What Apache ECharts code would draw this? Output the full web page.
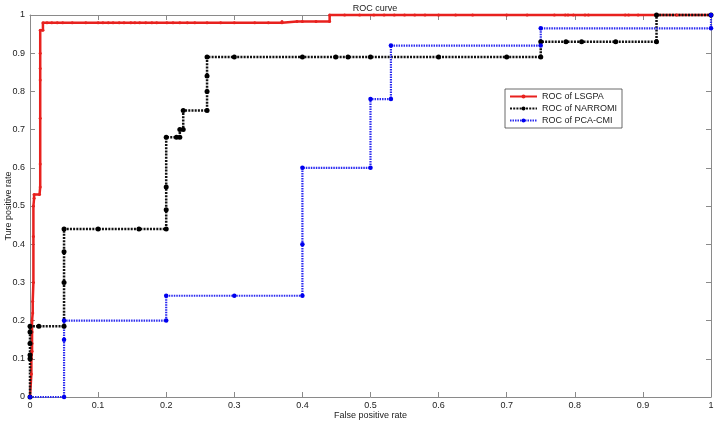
<!DOCTYPE html>
<html>
<head>
<meta charset="utf-8">
<script src="https://cdn.jsdelivr.net/npm/echarts@6/dist/echarts.min.js"></script>
<style>html,body{margin:0;padding:0;background:#fff}#c{width:714px;height:423px}</style>
</head>
<body>
<div id="c"></div>
<script>
var tickLabels = ['0','0.1','0.2','0.3','0.4','0.5','0.6','0.7','0.8','0.9','1'];
var seriesNames = ['ROC of LSGPA','ROC of NARROMI','ROC of PCA-CMI'];

var lsgpaFpr = [0,0.002,0.002,0.003,0.003,0.003,0.003,0.004,0.004,0.005,0.005,0.005,0.006,0.006,0.014,0.015,0.015,0.015,0.015,0.015,0.015,0.015,0.019,0.019,
  0.025,0.032,0.04,0.048,0.062,0.082,0.1,0.107,0.115,0.122,0.131,0.138,0.148,0.154,0.161,0.17,0.179,0.186,0.201,0.21,0.22,0.231,0.242,0.26,0.28,0.3,0.33,0.35,0.37,
  0.37,0.392,0.4,0.42,0.44,
  0.44,0.462,0.484,0.505,0.52,0.535,0.55,0.565,0.58,0.6,0.625,0.65,0.7,0.73,0.77,0.786,0.79,0.798,0.815,0.82,0.874,0.879,0.893,0.95,1.0];
var lsgpaTpr = [0,0.06,0.1,0.12,0.14,0.17,0.2,0.22,0.25,0.3,0.42,0.5,0.52,0.53,0.53,0.55,0.61,0.73,0.83,0.86,0.9,0.96,0.96,0.98,
  0.98,0.98,0.98,0.98,0.98,0.98,0.98,0.98,0.98,0.98,0.98,0.98,0.98,0.98,0.98,0.98,0.98,0.98,0.98,0.98,0.98,0.98,0.98,0.98,0.98,0.98,0.98,0.98,0.98,
  0.983,0.983,0.983,0.983,0.983,
  1,1,1,1,1,1,1,1,1,1,1,1,1,1,1,1,1,1,1,1,1,1,1,1,1];

var narromiFpr = [0,0,0,0,0,0,0.013,0.05,0.05,0.05,0.05,0.1,0.16,0.2,0.2,0.2,0.2,0.215,0.22,0.22,0.225,0.225,0.26,0.26,0.26,0.26,0.3,0.4,0.449,0.467,0.5,0.6,0.7,0.75,0.75,0.787,0.81,0.86,0.92,0.92,1];
var narromiTpr = [0,0.1,0.11,0.14,0.17,0.185,0.185,0.185,0.3,0.38,0.44,0.44,0.44,0.44,0.49,0.55,0.68,0.68,0.68,0.7,0.7,0.75,0.75,0.8,0.84,0.89,0.89,0.89,0.89,0.89,0.89,0.89,0.89,0.89,0.93,0.93,0.93,0.93,0.93,1,1];

var pcaFpr = [0,0.05,0.05,0.05,0.2,0.2,0.3,0.4,0.4,0.4,0.5,0.5,0.53,0.53,0.75,0.75,1,1];
var pcaTpr = [0,0,0.15,0.2,0.2,0.265,0.265,0.265,0.4,0.6,0.6,0.78,0.78,0.92,0.92,0.965,0.965,1];

function pairs(xs, ys){ return xs.map(function(x,i){ return [x, ys[i]]; }); }

var font = 'Liberation Sans, Arial, sans-serif';
var axisCol = '#8a8a8a';
function xAx(pos, showLabel){
  return {type:'value', position:pos, min:0, max:1, interval:0.1,
    axisLine:{show:true,onZero:false,lineStyle:{color:axisCol,width:1}},
    axisTick:{show:true,inside:true,length:5,lineStyle:{color:axisCol}},
    splitLine:{show:false},
    axisLabel:{show:showLabel,color:'#222',fontSize:9,fontFamily:font,margin:4,
      formatter:function(v){ return tickLabels[Math.round(v*10)]; }},
    name: showLabel ? 'False positive rate' : '', nameLocation:'middle', nameGap:14,
    nameMoveOverlap:false,
    nameTextStyle:{color:'#222',fontSize:9,fontFamily:font}};
}
function yAx(pos, showLabel){
  return {type:'value', position:pos, min:0, max:1, interval:0.1,
    axisLine:{show:true,onZero:false,lineStyle:{color:axisCol,width:1}},
    axisTick:{show:true,inside:true,length:5,lineStyle:{color:axisCol}},
    splitLine:{show:false},
    axisLabel:{show:showLabel,color:'#222',fontSize:9,fontFamily:font,margin:5,
      formatter:function(v){ return tickLabels[Math.round(v*10)]; }},
    name: showLabel ? 'Ture positive rate' : '', nameLocation:'middle', nameGap:17,
    nameMoveOverlap:false,
    nameTextStyle:{color:'#222',fontSize:9,fontFamily:font}};
}

var chart = echarts.init(document.getElementById('c'), null, {renderer:'canvas'});
chart.setOption({
  animation:false,
  backgroundColor:'#fff',
  title:{text:'ROC curve', left:370, textAlign:'center', top:-1, textStyle:{fontSize:9,fontWeight:'normal',color:'#222',fontFamily:font}},
  grid:{left:30,right:3,top:15,bottom:26,containLabel:false,outerBoundsMode:'none'},
  legend:{orient:'vertical', left:505, top:89, itemWidth:27, itemHeight:5, itemGap:3,
    padding:[3,5,3,4], borderColor:'#444', borderWidth:0.8, backgroundColor:'#fff',
    textStyle:{fontSize:9,fontFamily:font,color:'#222'}, data:seriesNames},
  xAxis:[xAx('bottom',true), xAx('top',false)],
  yAxis:[yAx('left',true), yAx('right',false)],
  series:[
    {name:seriesNames[0], type:'line', data:pairs(lsgpaFpr,lsgpaTpr), clip:false,
      symbol:'circle', symbolSize:3, color:'#e8211e',
      lineStyle:{color:'#e8211e',width:2.5,type:'solid'}, itemStyle:{color:'#e8211e'}},
    {name:seriesNames[1], type:'line', data:pairs(narromiFpr,narromiTpr), clip:false,
      symbol:'circle', symbolSize:5, color:'#000',
      lineStyle:{color:'#111',width:2.5,type:[2,1.2]}, itemStyle:{color:'#000'}},
    {name:seriesNames[2], type:'line', data:pairs(pcaFpr,pcaTpr), clip:false,
      symbol:'circle', symbolSize:4.5, color:'#1010f0',
      lineStyle:{color:'#2a2af0',width:2.2,type:[1.5,1]}, itemStyle:{color:'#0000ee'}}
  ]
});
</script>
</body>
</html>
